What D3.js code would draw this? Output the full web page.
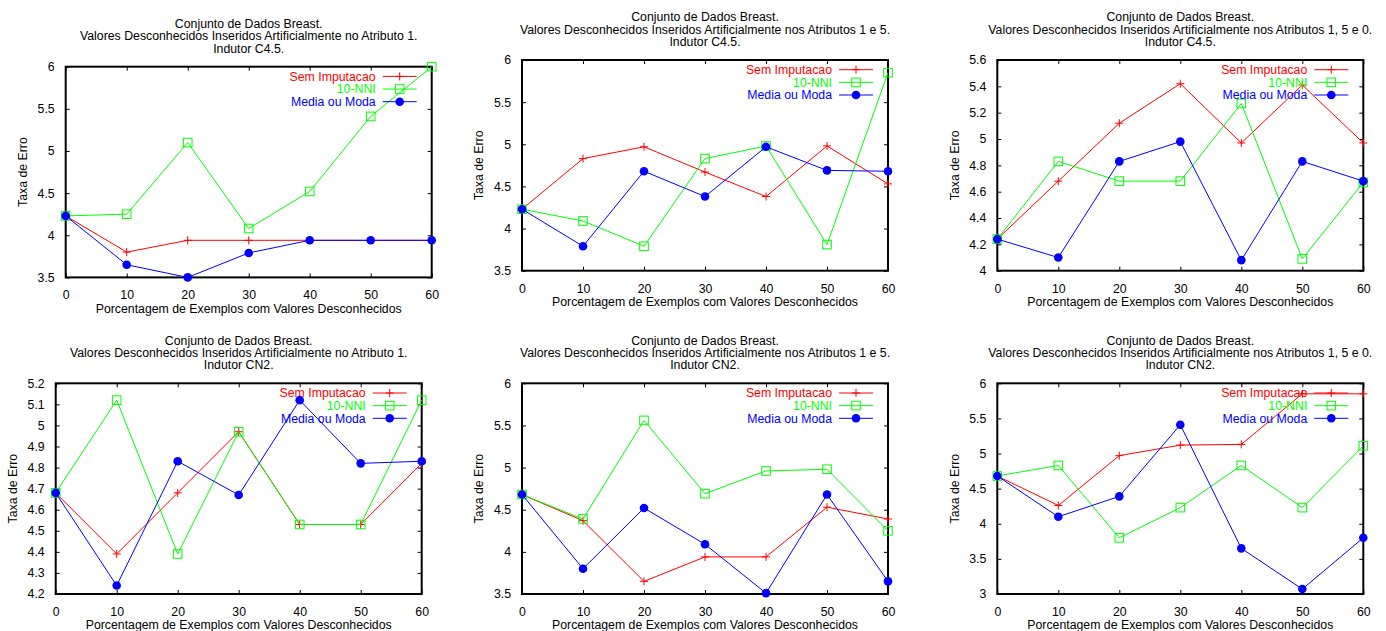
<!DOCTYPE html>
<html>
<head>
<meta charset="utf-8">
<script src="https://cdn.jsdelivr.net/npm/d3@7"></script>
<style>
  html, body { margin: 0; padding: 0; background: #fff; }
  svg { display: block; }
  text { font-family: "Liberation Sans", Arial, Helvetica, sans-serif; font-size: 12.3px; }
</style>
</head>
<body>
<svg id="chart" width="1386" height="631"></svg>
<script>
// ---------- data ----------
const xPct = [0, 10, 20, 30, 40, 50, 60];
const xTicks = [0, 10, 20, 30, 40, 50, 60];
const seriesNames = ["Sem Imputacao", "10-NNI", "Media ou Moda"];
const seriesColors = ["#ff0000", "#00ff00", "#0000ff"];
const xLabel = "Porcentagem de Exemplos com Valores Desconhecidos";
const yLabel = "Taxa de Erro";

const titleLine1 = "Conjunto de Dados Breast.";
const titleLines2 = [
  "Valores Desconhecidos Inseridos Artificialmente no Atributo 1.",
  "Valores Desconhecidos Inseridos Artificialmente nos Atributos 1 e 5.",
  "Valores Desconhecidos Inseridos Artificialmente nos Atributos 1, 5 e 0.",
  "Valores Desconhecidos Inseridos Artificialmente no Atributo 1.",
  "Valores Desconhecidos Inseridos Artificialmente nos Atributos 1 e 5.",
  "Valores Desconhecidos Inseridos Artificialmente nos Atributos 1, 5 e 0."
];
const titleLines3 = ["Indutor C4.5.", "Indutor C4.5.", "Indutor C4.5.", "Indutor CN2.", "Indutor CN2.", "Indutor CN2."];

// C4.5, atributo 1
const c45a1Sem   = [4.23, 3.80, 3.94, 3.94, 3.94, 3.94, 3.94];
const c45a1Nni   = [4.23, 4.25, 5.10, 4.08, 4.52, 5.41, 6.00];
const c45a1Media = [4.23, 3.65, 3.50, 3.79, 3.94, 3.94, 3.94];
// C4.5, atributos 1 e 5
const c45a15Sem   = [4.23, 4.83, 4.97, 4.67, 4.38, 4.98, 4.53];
const c45a15Nni   = [4.23, 4.09, 3.79, 4.83, 4.98, 3.81, 5.85];
const c45a15Media = [4.23, 3.79, 4.68, 4.38, 4.97, 4.69, 4.68];
// C4.5, atributos 1, 5 e 0
const c45a150Sem   = [4.24, 4.68, 5.12, 5.42, 4.97, 5.41, 4.97];
const c45a150Nni   = [4.24, 4.83, 4.68, 4.68, 5.27, 4.09, 4.67];
const c45a150Media = [4.24, 4.10, 4.83, 4.98, 4.08, 4.83, 4.68];
// CN2, atributo 1
const cn2a1Sem   = [4.68, 4.39, 4.68, 4.97, 4.53, 4.53, 4.82];
const cn2a1Nni   = [4.68, 5.12, 4.39, 4.97, 4.53, 4.53, 5.12];
const cn2a1Media = [4.68, 4.24, 4.83, 4.67, 5.12, 4.82, 4.83];
// CN2, atributos 1 e 5
const cn2a15Sem   = [4.68, 4.37, 3.65, 3.94, 3.94, 4.53, 4.39];
const cn2a15Nni   = [4.68, 4.39, 5.56, 4.69, 4.96, 4.98, 4.25];
const cn2a15Media = [4.68, 3.80, 4.52, 4.09, 3.51, 4.68, 3.65];
// CN2, atributos 1, 5 e 0
const cn2a150Sem   = [4.68, 4.26, 4.97, 5.12, 5.13, 5.85, 5.85];
const cn2a150Nni   = [4.68, 4.83, 3.80, 4.23, 4.83, 4.23, 5.11];
const cn2a150Media = [4.68, 4.10, 4.39, 5.41, 3.65, 3.07, 3.80];

const yTicksA = [3.5, 4, 4.5, 5, 5.5, 6];
const yTicksB = [4, 4.2, 4.4, 4.6, 4.8, 5, 5.2, 5.4, 5.6];
const yTicksC = [4.2, 4.3, 4.4, 4.5, 4.6, 4.7, 4.8, 4.9, 5, 5.1, 5.2];
const yTicksD = [3, 3.5, 4, 4.5, 5, 5.5, 6];

const panelSeries = [
  [c45a1Sem, c45a1Nni, c45a1Media],
  [c45a15Sem, c45a15Nni, c45a15Media],
  [c45a150Sem, c45a150Nni, c45a150Media],
  [cn2a1Sem, cn2a1Nni, cn2a1Media],
  [cn2a15Sem, cn2a15Nni, cn2a15Media],
  [cn2a150Sem, cn2a150Nni, cn2a150Media]
];
const panelYTicks = [yTicksA, yTicksA, yTicksB, yTicksC, yTicksA, yTicksD];

// ---------- layout ----------
const plotW = 366, plotH = 210.7;
const panelPos = [
  [65.7, 66.7], [522, 60], [997.3, 60],
  [55.7, 383.3], [522, 383.3], [997.3, 383.3]
];

const svg = d3.select("#chart");
svg.append("rect").attr("width", 1386).attr("height", 631).attr("fill", "#fff");

panelSeries.forEach((series, pi) => {
  const [L, T] = panelPos[pi];
  const yT = panelYTicks[pi];
  const x = d3.scaleLinear().domain([0, 60]).range([L, L + plotW]);
  const y = d3.scaleLinear().domain([yT[0], yT[yT.length - 1]]).range([T + plotH, T]);
  const g = svg.append("g");

  // ticks (inward, mirrored)
  const tk = 4;
  const xa = g.append("g").attr("transform", `translate(0,${T + plotH})`)
    .call(d3.axisBottom(x).tickValues(xTicks).tickSize(-tk).tickPadding(7 + tk).tickFormat(d3.format("d")));
  const xa2 = g.append("g").attr("transform", `translate(0,${T})`)
    .call(d3.axisTop(x).tickValues(xTicks).tickSize(-tk).tickFormat(""));
  const ya = g.append("g").attr("transform", `translate(${L},0)`)
    .call(d3.axisLeft(y).tickValues(yT).tickSize(-tk).tickPadding(7 + tk).tickFormat(d => String(+d.toFixed(2))));
  const ya2 = g.append("g").attr("transform", `translate(${L + plotW},0)`)
    .call(d3.axisRight(y).tickValues(yT).tickSize(-tk).tickFormat(""));
  [xa, xa2, ya, ya2].forEach(a => {
    a.select(".domain").remove();
    a.selectAll(".tick line").attr("stroke", "#000").attr("stroke-width", 1);
    a.selectAll(".tick text").attr("fill", "#000").style("font-size", "12.3px")
      .style("font-family", '"Liberation Sans", Arial, sans-serif');
  });
  xa.selectAll(".tick text").attr("dy", "0.9em");

  // border
  g.append("rect").attr("x", L).attr("y", T).attr("width", plotW).attr("height", plotH)
    .attr("fill", "none").attr("stroke", "#000").attr("stroke-width", 2);

  // titles
  const cx = L + plotW / 2;
  [titleLine1, titleLines2[pi], titleLines3[pi]].forEach((t, i) => {
    g.append("text").attr("x", cx).attr("y", T - 43 + i * 12.3).attr("dy", "0.35em")
      .attr("text-anchor", "middle").attr("fill", "#000").text(t);
  });
  g.append("text").attr("x", cx).attr("y", T + plotH + 31).attr("dy", "0.35em")
    .attr("text-anchor", "middle").attr("fill", "#000").text(xLabel);
  g.append("text").attr("transform", `translate(${L - 43},${T + plotH / 2}) rotate(-90)`)
    .attr("dy", "0.35em").attr("text-anchor", "middle").attr("fill", "#000").text(yLabel);

  const R = L + plotW;
  const line = d3.line().x((d, i) => x(xPct[i])).y(d => y(d));

  series.forEach((vals, si) => {
    const col = seriesColors[si];
    const ky = T + 9.7 + si * 12.65;
    // key entry
    g.append("text").attr("x", R - 56).attr("y", ky).attr("dy", "0.35em")
      .attr("text-anchor", "end").attr("fill", col).text(seriesNames[si]);
    g.append("line").attr("x1", R - 49).attr("x2", R - 15).attr("y1", ky).attr("y2", ky)
      .attr("stroke", col).attr("stroke-width", 1);
    const pts = vals.map((v, i) => [x(xPct[i]), y(v)]);
    const keyPt = [[R - 32, ky]];
    // curve
    g.append("path").datum(vals).attr("d", line).attr("fill", "none")
      .attr("stroke", col).attr("stroke-width", 1);
    const drawMarkers = (arr) => {
      arr.forEach(([px, py]) => {
        if (si === 0) {
          g.append("path").attr("d", `M${px - 4},${py}H${px + 4}M${px},${py - 4}V${py + 4}`)
            .attr("stroke", col).attr("stroke-width", 1).attr("fill", "none");
        } else if (si === 1) {
          g.append("rect").attr("x", px - 4.3).attr("y", py - 4.3).attr("width", 8.6).attr("height", 8.6)
            .attr("fill", "none").attr("stroke", col).attr("stroke-width", 1);
        } else {
          g.append("circle").attr("cx", px).attr("cy", py).attr("r", 4.3).attr("fill", col);
        }
      });
    };
    drawMarkers(keyPt);
    drawMarkers(pts);
  });
});
</script>
</body>
</html>
